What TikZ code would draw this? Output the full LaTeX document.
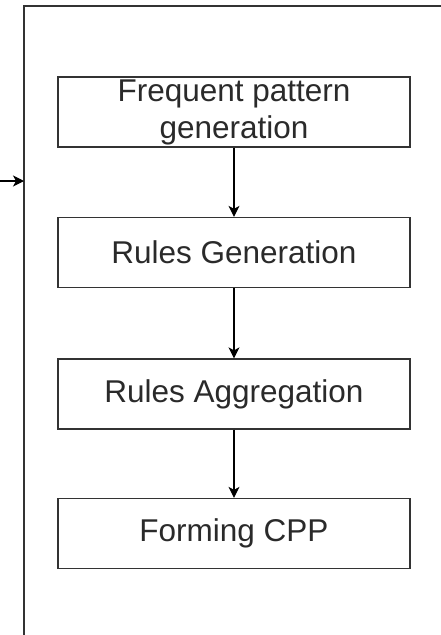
\documentclass[tikz,border=0pt]{standalone}
\usepackage{fontspec}
\setmainfont{Liberation Sans}
\usetikzlibrary{arrows.meta}
\definecolor{linec}{HTML}{333333}
\definecolor{textc}{HTML}{2A2A2A}
\tikzset{
  stepbox/.style={draw=linec, line width=1.3pt, minimum width=352pt, minimum height=70pt,
    inner sep=0pt, text=textc, align=center,
    font=\fontsize{31.5}{37}\selectfont},
  flow/.style={draw=black, line width=1.1pt, -{Stealth[length=11pt,width=11pt,inset=3pt]}},
  frame/.style={draw=linec, line width=1.3pt}
}
\begin{document}
\begin{tikzpicture}[x=1pt,y=-1pt]
\useasboundingbox (0,0) rectangle (441,635);
\draw[frame] (24,635) -- (24,6) -- (441,6);
\coordinate (in) at (0,181);
\coordinate (wall) at (24,181);
\node[stepbox] (fp) at (234,112) {Frequent pattern\\generation};
\node[stepbox] (rg) at (234,252.5) {Rules Generation};
\node[stepbox] (ra) at (234,394) {Rules Aggregation};
\node[stepbox] (cpp) at (234,533.5) {Forming CPP};
\draw[flow] (fp) -- (rg);
\draw[flow] (rg) -- (ra);
\draw[flow] (ra) -- (cpp);
\draw[flow] (in) -- (wall);
\end{tikzpicture}
\end{document}
